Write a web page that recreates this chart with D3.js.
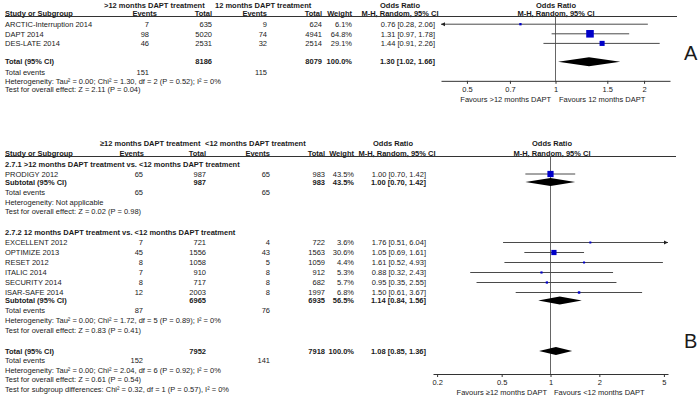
<!DOCTYPE html>
<html><head><meta charset="utf-8">
<script src="https://cdn.jsdelivr.net/npm/d3@7"></script>
<style>
body{margin:0;background:#fff}
svg{display:block}
text{font-family:"Liberation Sans",Arial,sans-serif;font-size:7.5px;fill:#1a1a1a}
</style>
</head><body>
<svg id="c" width="700" height="403"></svg>
<script>
// ---------------- Panel A data ----------------
const groupHeadA = [">12 months DAPT treatment", "12 months DAPT treatment"];
const studiesA = ["ARCTIC-Interruption 2014", "DAPT 2014", "DES-LATE 2014"];
const eventsA1 = [7, 98, 46];
const totalA1 = [635, 5020, 2531];
const eventsA2 = [9, 74, 32];
const totalA2 = [624, 4941, 2514];
const weightA = [6.1, 64.8, 29.1];
const orA = [0.76, 1.31, 1.44];
const lowA = [0.28, 0.97, 0.91];
const highA = [2.06, 1.78, 2.26];
const pooledA = [1.30, 1.02, 1.66];
const totalsA = [8186, 8079];
const totalEventsA = [151, 115];
const footA = ["Heterogeneity: Tau² = 0.00; Chi² = 1.30, df = 2 (P = 0.52); I² = 0%",
               "Test for overall effect: Z = 2.11 (P = 0.04)"];
const ticksA = [0.5, 0.7, 1, 1.5, 2];
const favoursA = ["Favours >12 months DAPT", "Favours 12 months DAPT"];

// ---------------- Panel B data ----------------
const groupHeadB = ["≥12 months DAPT treatment", "<12 months DAPT treatment"];
const subgroupsB = ["2.7.1 >12 months DAPT treatment vs. <12 months DAPT treatment",
                    "2.7.2 12 months DAPT treatment vs. <12 months DAPT treatment"];
const studiesB = ["PRODIGY 2012", "EXCELLENT 2012", "OPTIMIZE 2013", "RESET 2012", "ITALIC 2014", "SECURITY 2014", "ISAR-SAFE 2014"];
const groupB = [0, 1, 1, 1, 1, 1, 1];
const eventsB1 = [65, 7, 45, 8, 7, 8, 12];
const totalB1 = [987, 721, 1556, 1058, 910, 717, 2003];
const eventsB2 = [65, 4, 43, 5, 8, 8, 8];
const totalB2 = [983, 722, 1563, 1059, 912, 682, 1997];
const weightB = [43.5, 3.6, 30.6, 4.4, 5.3, 5.7, 6.8];
const orB = [1.00, 1.76, 1.05, 1.61, 0.88, 0.95, 1.50];
const lowB = [0.70, 0.51, 0.69, 0.52, 0.32, 0.35, 0.61];
const highB = [1.42, 6.04, 1.61, 4.93, 2.43, 2.55, 3.67];
const subOR = [1.00, 1.14];
const subLow = [0.70, 0.84];
const subHigh = [1.42, 1.56];
const subN1 = [987, 6965];
const subN2 = [983, 6935];
const subW = [43.5, 56.5];
const subEv1 = [65, 87];
const subEv2 = [65, 76];
const subHet = ["Heterogeneity: Not applicable",
                "Heterogeneity: Tau² = 0.00; Chi² = 1.72, df = 5 (P = 0.89); I² = 0%"];
const subTest = ["Test for overall effect: Z = 0.02 (P = 0.98)",
                 "Test for overall effect: Z = 0.83 (P = 0.41)"];
const pooledB = [1.08, 0.85, 1.36];
const totalsB = [7952, 7918];
const totalEventsB = [152, 141];
const footB = ["Heterogeneity: Tau² = 0.00; Chi² = 2.04, df = 6 (P = 0.92); I² = 0%",
               "Test for overall effect: Z = 0.61 (P = 0.54)",
               "Test for subgroup differences: Chi² = 0.32, df = 1 (P = 0.57), I² = 0%"];
const ticksB = [0.2, 0.5, 1, 2, 5];
const favoursB = ["Favours ≥12 months DAPT", "Favours <12 months DAPT"];

// ---------------- drawing ----------------
const svg = d3.select("#c");
const fmt2 = d3.format(".2f");
const fmtW = d => d3.format(".1f")(d) + "%";
const ciText = (o, l, h) => `${fmt2(o)} [${fmt2(l)}, ${fmt2(h)}]`;

function T(x, y, s, a, b) {
  const t = svg.append("text").attr("x", x).attr("y", y + 2.7).text(s);
  if (a) t.attr("text-anchor", a);
  if (b) t.attr("font-weight", "bold");
  return t;
}

const sq = d3.scaleSqrt().domain([0, 100]).range([0, 9.4]);
const blue = "#0000c8";

function square(x, y, or, w) {
  const s = Math.max(2, sq(w));
  svg.append("rect").attr("x", x(or) - s / 2).attr("y", y - s / 2)
    .attr("width", s).attr("height", s).attr("fill", blue);
}
function ciLine(x, y, lo, hi) {
  const [d0, d1] = x.domain();
  const a = Math.max(lo, d0), b = Math.min(hi, d1);
  svg.append("line").attr("x1", x(a)).attr("x2", x(b)).attr("y1", y).attr("y2", y)
    .attr("stroke", "#4a4a4a").attr("stroke-width", 1);
  if (lo < d0) {
    const px = x(d0);
    svg.append("path").attr("d", `M${px},${y}L${px + 4},${y - 2}L${px + 4},${y + 2}Z`).attr("fill", "#222");
  }
  if (hi > d1) {
    const px = x(d1);
    svg.append("path").attr("d", `M${px},${y}L${px - 4},${y - 2}L${px - 4},${y + 2}Z`).attr("fill", "#222");
  }
}
function diamond(x, y, or, lo, hi, h) {
  svg.append("path")
    .attr("d", `M${x(lo)},${y}L${x(or)},${y - h / 2}L${x(hi)},${y}L${x(or)},${y + h / 2}Z`)
    .attr("fill", "#000");
}
function axis(x, y, ticks, pad) {
  const g = svg.append("g").attr("transform", `translate(0,${y})`)
    .call(d3.axisBottom(x).tickValues(ticks).tickFormat(d => d).tickSize(3).tickSizeOuter(0).tickPadding(pad));
  g.attr("font-family", null).attr("font-size", null);
  g.selectAll("path,line").attr("stroke", "#333");
  g.selectAll("text").attr("fill", "#1a1a1a");
}

// ===== Panel A =====
{
  const yA = i => 5 + i * 9.6;
  const c = {name: 5, ev1: 149, ev1h: 157, tot1: 212, ev2: 267, tot2: 322, w: 352, orr: 435, orc: 400, pc: 556};
  const x = d3.scaleLog().domain([1 / 2.45, 2.45]).range([441, 670]);

  T(104, yA(0), groupHeadA[0], null, true);
  T(215, yA(0), groupHeadA[1], null, true);
  T(c.orc, yA(0), "Odds Ratio", "middle", true);
  T(c.pc, yA(0), "Odds Ratio", "middle", true);
  const h = yA(0.9);
  T(c.name, h, "Study or Subgroup", null, true);
  T(c.ev1h, h, "Events", "end", true);
  T(c.tot1, h, "Total", "end", true);
  T(c.ev2, h, "Events", "end", true);
  T(c.tot2, h, "Total", "end", true);
  T(c.w, h, "Weight", "end", true);
  T(c.orc, h, "M-H, Random, 95% CI", "middle", true);
  T(c.pc, h, "M-H, Random, 95% CI", "middle", true);
  svg.append("line").attr("x1", 5).attr("x2", 677).attr("y1", 16.5).attr("y2", 16.5).attr("stroke", "#333");

  // vertical null line
  svg.append("line").attr("x1", x(1)).attr("x2", x(1)).attr("y1", 16.5).attr("y2", yA(7.9))
    .attr("stroke", "#666");

  studiesA.forEach((s, i) => {
    const y = yA(2 + i);
    T(c.name, y, s);
    T(c.ev1, y, eventsA1[i], "end");
    T(c.tot1, y, totalA1[i], "end");
    T(c.ev2, y, eventsA2[i], "end");
    T(c.tot2, y, totalA2[i], "end");
    T(c.w, y, fmtW(weightA[i]), "end");
    T(c.orr, y, ciText(orA[i], lowA[i], highA[i]), "end");
    ciLine(x, y, lowA[i], highA[i]);
    square(x, y, orA[i], weightA[i]);
  });
  const yt = yA(5.9);
  T(c.name, yt, "Total (95% CI)", null, true);
  T(c.tot1, yt, totalsA[0], "end", true);
  T(c.tot2, yt, totalsA[1], "end", true);
  T(c.w, yt, "100.0%", "end", true);
  T(c.orr, yt, ciText(...pooledA), "end", true);
  diamond(x, yt, pooledA[0], pooledA[1], pooledA[2], 9);
  const ye = yA(7);
  T(c.name, ye, "Total events");
  T(c.ev1, ye, totalEventsA[0], "end");
  T(c.ev2, ye, totalEventsA[1], "end");
  T(c.name, yA(7.9), footA[0]);
  T(c.name, yA(8.8), footA[1]);

  axis(x, yA(7.9), ticksA, 2.5);
  T(551, 99, favoursA[0], "end");
  T(559, 99, favoursA[1]);
  svg.append("text").attr("x", 684).attr("y", 53 + 7).text("A").style("font-size", "20px");
}

// ===== Panel B =====
{
  const yB = i => 143 + i * 10;
  const c = {name: 5, ev1: 143, ev1h: 144, tot1: 206, ev2: 270, tot2: 325, w: 354, orr: 426, orc: 397, pc: 552};
  const x = d3.scaleLog().domain([1 / 5.3, 5.3]).range([433, 668]);

  T(100, yB(0), groupHeadB[0], null, true);
  T(205, yB(0), groupHeadB[1], null, true);
  T(c.orc - 4, yB(0), "Odds Ratio", "middle", true);
  T(c.pc, yB(0), "Odds Ratio", "middle", true);
  const h = yB(1);
  T(c.name, h, "Study or Subgroup", null, true);
  T(c.ev1h, h, "Events", "end", true);
  T(c.tot1, h, "Total", "end", true);
  T(c.ev2, h, "Events", "end", true);
  T(c.tot2, h, "Total", "end", true);
  T(c.w, h, "Weight", "end", true);
  T(c.orc, h, "M-H, Random, 95% CI", "middle", true);
  T(c.pc, h, "M-H, Random, 95% CI", "middle", true);
  svg.append("line").attr("x1", 5).attr("x2", 676).attr("y1", 156.5).attr("y2", 156.5).attr("stroke", "#333");

  const axisY = 374;
  svg.append("line").attr("x1", x(1)).attr("x2", x(1)).attr("y1", 156.5).attr("y2", axisY)
    .attr("stroke", "#666");

  let cur = 2.1;
  subgroupsB.forEach((sg, g) => {
    T(c.name, yB(cur), sg, null, true);
    const idx = studiesB.map((_, i) => i).filter(i => groupB[i] === g);
    idx.forEach((i, k) => {
      const y = yB(cur + 1 + k);
      T(c.name, y, studiesB[i]);
      T(c.ev1, y, eventsB1[i], "end");
      T(c.tot1, y, totalB1[i], "end");
      T(c.ev2, y, eventsB2[i], "end");
      T(c.tot2, y, totalB2[i], "end");
      T(c.w, y, fmtW(weightB[i]), "end");
      T(c.orr, y, ciText(orB[i], lowB[i], highB[i]), "end");
      ciLine(x, y, lowB[i], highB[i]);
      square(x, y, orB[i], weightB[i]);
    });
    cur = cur + idx.length + 0.8;
    const ys = yB(cur);
    T(c.name, ys, "Subtotal (95% CI)", null, true);
    T(c.tot1, ys, subN1[g], "end", true);
    T(c.tot2, ys, subN2[g], "end", true);
    T(c.w, ys, fmtW(subW[g]), "end", true);
    T(c.orr, ys, ciText(subOR[g], subLow[g], subHigh[g]), "end", true);
    diamond(x, ys, subOR[g], subLow[g], subHigh[g], 8);
    cur += 1;
    T(c.name, yB(cur), "Total events");
    T(c.ev1, yB(cur), subEv1[g], "end");
    T(c.ev2, yB(cur), subEv2[g], "end");
    cur += 1;
    T(c.name, yB(cur), subHet[g]);
    cur += 0.95;
    T(c.name, yB(cur), subTest[g]);
    cur += 2.1;
  });
  const yt = yB(cur);
  T(c.name, yt, "Total (95% CI)", null, true);
  T(c.tot1, yt, totalsB[0], "end", true);
  T(c.tot2, yt, totalsB[1], "end", true);
  T(c.w, yt, "100.0%", "end", true);
  T(c.orr, yt, ciText(...pooledB), "end", true);
  diamond(x, yt, pooledB[0], pooledB[1], pooledB[2], 8);
  cur += 0.95;
  T(c.name, yB(cur), "Total events");
  T(c.ev1, yB(cur), totalEventsB[0], "end");
  T(c.ev2, yB(cur), totalEventsB[1], "end");
  footB.forEach((f, k) => T(c.name, yB(cur + 0.95 * (k + 1)), f));

  axis(x, axisY, ticksB, 3);
  T(547, 392, favoursB[0], "end");
  T(554, 392, favoursB[1]);
  svg.append("text").attr("x", 684).attr("y", 341 + 7).text("B").style("font-size", "20px");
}
</script>
</body></html>
